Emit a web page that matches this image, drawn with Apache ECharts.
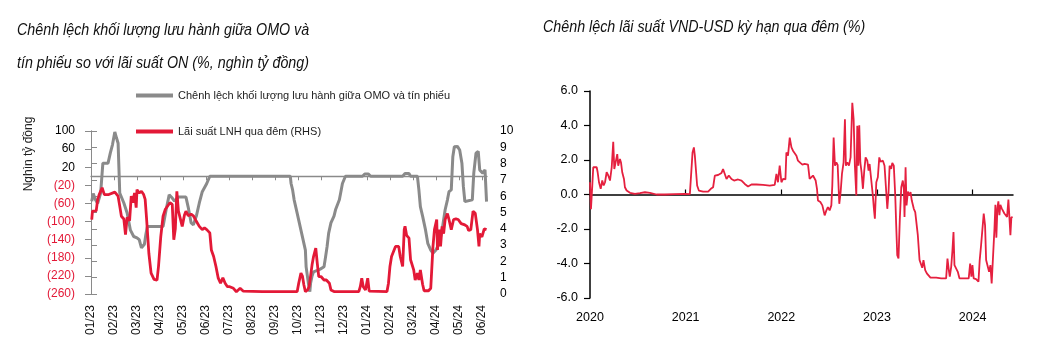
<!DOCTYPE html>
<html>
<head>
<meta charset="utf-8">
<script src="https://cdn.jsdelivr.net/npm/echarts@6/dist/echarts.min.js"></script>
<style>
html,body{margin:0;padding:0;background:#fff;}
#c{width:1046px;height:342px;}
</style>
</head>
<body>
<div id="c"></div>
<script>
// ---------------- DATA ----------------
const leftTitleLines = ['Chênh lệch khối lượng lưu hành giữa OMO và', 'tín phiếu so với lãi suất ON (%, nghìn tỷ đồng)'];
const rightTitle = 'Chênh lệch lãi suất VND-USD kỳ hạn qua đêm (%)';
const leftAxisName = 'Nghìn tỷ đồng';
const omoName = 'Chênh lệch khối lượng lưu hành giữa OMO và tín phiếu';
const lnhName = 'Lãi suất LNH qua đêm (RHS)';
const monthLabels = ['01/23','02/23','03/23','04/23','05/23','06/23','07/23','08/23','09/23','10/23','11/23','12/23','01/24','02/24','03/24','04/24','05/24','06/24'];
const yearLabels = ['2020','2021','2022','2023','2024'];

// OMO - T-bill outstanding gap (thousand bn VND, left axis)
const omoPoints = [
['2023-01-02',-55],['2023-01-04',-38],['2023-01-07',-52],['2023-01-10',-60],['2023-01-14',-37],['2023-01-17',29],
['2023-01-24',29],['2023-01-27',51],['2023-01-30',70],['2023-02-02',98],['2023-02-04',85],['2023-02-06',73],
['2023-02-08',-37],['2023-02-13',-59],['2023-02-17',-81],['2023-02-21',-119],['2023-02-25',-133],['2023-03-01',-136],
['2023-03-04',-140],['2023-03-07',-158],['2023-03-11',-150],['2023-03-13',-128],['2023-03-15',-111],['2023-04-05',-111],
['2023-04-09',-74],['2023-04-13',-41],['2023-04-17',-48],['2023-04-20',-55],['2023-04-25',-46],['2023-05-05',-46],
['2023-05-08',-68],['2023-05-12',-103],['2023-05-15',-107],['2023-05-19',-88],['2023-05-23',-59],['2023-05-27',-34],
['2023-06-02',-16],['2023-06-06',0],['2023-09-21',0],['2023-09-22',-16],['2023-09-24',-30],['2023-09-26',-52],
['2023-09-30',-82],['2023-10-02',-97],['2023-10-05',-119],['2023-10-08',-141],['2023-10-11',-163],['2023-10-12',-200],
['2023-10-15',-236],['2023-10-17',-255],['2023-10-18',-236],['2023-10-20',-220],['2023-10-22',-211],['2023-10-27',-208],
['2023-10-31',-205],['2023-11-05',-200],['2023-11-07',-178],['2023-11-09',-155],['2023-11-11',-126],['2023-11-14',-103],
['2023-11-18',-88],['2023-11-20',-74],['2023-11-25',-52],['2023-11-27',-34],['2023-11-29',-16],['2023-12-03',0],
['2023-12-26',0],['2023-12-29',5],['2024-01-03',5],['2024-01-06',0],['2024-02-17',0],['2024-02-20',6],
['2024-02-25',6],['2024-02-27',0],['2024-03-07',0],['2024-03-09',-30],['2024-03-11',-67],['2024-03-14',-88],
['2024-03-18',-119],['2024-03-21',-148],['2024-03-25',-163],['2024-03-28',-170],['2024-04-01',-163],['2024-04-05',-148],
['2024-04-09',-119],['2024-04-13',-74],['2024-04-16',-52],['2024-04-18',-34],['2024-04-21',-30],['2024-04-23',43],
['2024-04-25',65],['2024-04-29',66],['2024-05-02',58],['2024-05-05',29],['2024-05-07',-23],['2024-05-09',-56],
['2024-05-19',-52],['2024-05-21',7],['2024-05-24',51],['2024-05-27',55],['2024-05-29',14],['2024-06-02',7],
['2024-06-05',14],['2024-06-07',-56]
];

// Overnight interbank rate (%, right axis)
const lnhPoints = [
['2023-01-02',4.57],['2023-01-03',5.08],['2023-01-08',5.1],['2023-01-10',5.8],['2023-01-12',6.1],['2023-01-16',6.52],
['2023-01-19',6.1],['2023-01-25',6.1],['2023-02-02',6.25],['2023-02-06',6.0],['2023-02-08',5.39],['2023-02-10',4.77],
['2023-02-13',4.6],['2023-02-15',3.64],['2023-02-17',4.7],['2023-02-20',4.5],['2023-02-22',6.0],['2023-02-24',5.6],
['2023-02-26',6.2],['2023-02-28',5.3],['2023-03-01',6.4],['2023-03-04',6.2],['2023-03-07',6.3],['2023-03-10',6.1],
['2023-03-12',5.8],['2023-03-14',4.57],['2023-03-17',2.5],['2023-03-20',1.28],['2023-03-24',0.9],['2023-03-28',0.85],
['2023-03-30',1.7],['2023-04-02',3.5],['2023-04-05',4.77],['2023-04-08',5.2],['2023-04-11',5.4],['2023-04-14',5.6],
['2023-04-17',5.5],['2023-04-19',3.33],['2023-04-21',4.0],['2023-04-23',6.3],['2023-04-25',5.1],['2023-04-27',5.0],
['2023-04-30',4.15],['2023-05-03',4.85],['2023-05-05',5.08],['2023-05-08',4.8],['2023-05-12',4.9],['2023-05-15',4.8],
['2023-05-19',4.46],['2023-05-23',4.15],['2023-05-27',3.95],['2023-05-30',4.05],['2023-06-02',3.95],['2023-06-06',3.75],
['2023-06-08',2.7],['2023-06-11',2.3],['2023-06-14',1.69],['2023-06-17',0.97],['2023-06-20',0.66],['2023-06-23',1.0],
['2023-06-26',0.66],['2023-06-29',0.45],['2023-07-02',0.45],['2023-07-07',0.35],['2023-07-11',0.14],['2023-07-16',0.35],
['2023-07-20',0.18],['2023-08-15',0.15],['2023-09-30',0.15],['2023-10-02',0.66],['2023-10-05',1.28],['2023-10-07',1.1],
['2023-10-09',0.55],['2023-10-11',0.14],['2023-10-14',0.25],['2023-10-16',0.45],['2023-10-18',1.1],['2023-10-20',1.79],
['2023-10-22',2.3],['2023-10-25',2.82],['2023-10-27',1.9],['2023-10-29',1.07],['2023-11-01',1.07],['2023-11-05',0.86],
['2023-11-08',0.86],['2023-11-12',0.66],['2023-11-14',0.25],['2023-11-18',0.15],['2023-12-21',0.15],['2023-12-23',0.45],
['2023-12-25',0.97],['2023-12-27',0.45],['2023-12-30',0.25],['2024-01-02',0.97],['2024-01-04',0.18],['2024-01-28',0.15],
['2024-01-30',0.66],['2024-02-01',1.69],['2024-02-03',2.3],['2024-02-08',2.92],['2024-02-12',2.92],['2024-02-14',2.3],
['2024-02-17',1.69],['2024-02-19',3.95],['2024-02-20',4.15],['2024-02-22',3.6],['2024-02-25',3.43],['2024-02-27',2.1],
['2024-02-29',2.1],['2024-03-02',1.48],['2024-03-04',0.86],['2024-03-07',1.28],['2024-03-09',0.86],['2024-03-11',1.48],
['2024-03-14',0.6],['2024-03-16',0.2],['2024-03-18',0.14],['2024-03-22',0.2],['2024-03-25',0.35],['2024-03-28',2.92],
['2024-03-30',3.95],['2024-04-02',4.57],['2024-04-03',2.7],['2024-04-05',3.95],['2024-04-07',2.92],['2024-04-09',4.15],
['2024-04-11',3.7],['2024-04-13',4.57],['2024-04-16',4.94],['2024-04-18',4.57],['2024-04-21',3.95],['2024-04-24',4.57],
['2024-04-27',4.61],['2024-04-30',4.57],['2024-05-04',4.32],['2024-05-08',4.26],['2024-05-12',4.15],['2024-05-14',3.9],
['2024-05-17',3.95],['2024-05-20',5.08],['2024-05-23',4.95],['2024-05-26',3.95],['2024-05-28',2.92],['2024-05-29',3.7],
['2024-06-01',3.5],['2024-06-04',4.0],['2024-06-07',3.95]
];

// VND-USD overnight rate spread (%), x = decimal year
const spreadPoints = [
[2020.000,0.71],[2020.010,-0.85],[2020.024,0.52],[2020.034,1.58],[2020.070,1.58],[2020.080,1.29],[2020.094,0.71],
[2020.112,0.33],[2020.128,0.81],[2020.143,0.52],[2020.157,0.71],[2020.174,1.29],[2020.191,1.10],[2020.209,0.81],
[2020.227,1.58],[2020.243,3.05],[2020.254,1.48],[2020.271,1.38],[2020.285,2.34],[2020.295,1.67],[2020.313,2.06],
[2020.324,1.86],[2020.337,1.29],[2020.355,0.90],[2020.365,0.42],[2020.383,0.23],[2020.418,0.10],[2020.470,0.04],
[2020.522,0.08],[2020.574,0.13],[2020.626,0.10],[2020.696,0.00],[2020.783,0.00],[2020.887,0.02],[2020.992,0.04],
[2021.044,0.02],[2021.062,0.13],[2021.072,2.44],[2021.086,2.73],[2021.096,2.25],[2021.110,2.15],[2021.120,0.52],
[2021.138,0.23],[2021.183,0.17],[2021.235,0.17],[2021.263,0.33],[2021.287,0.42],[2021.305,1.10],[2021.323,1.19],
[2021.339,1.13],[2021.375,1.25],[2021.391,1.48],[2021.409,1.19],[2021.427,0.90],[2021.451,1.10],[2021.479,0.90],
[2021.506,0.81],[2021.548,0.87],[2021.584,0.81],[2021.618,0.61],[2021.652,0.46],[2021.688,0.58],[2021.740,0.58],
[2021.809,0.56],[2021.879,0.52],[2021.931,0.56],[2021.949,1.19],[2021.965,0.71],[2021.983,1.67],[2022.001,0.71],
[2022.018,0.90],[2022.043,0.87],[2022.053,2.44],[2022.070,2.25],[2022.088,3.30],[2022.106,2.73],[2022.122,2.54],
[2022.140,2.44],[2022.158,2.25],[2022.174,1.96],[2022.199,1.83],[2022.220,1.73],[2022.244,1.77],[2022.279,1.73],
[2022.296,0.90],[2022.314,0.87],[2022.331,1.10],[2022.349,1.19],[2022.359,0.81],[2022.373,0.33],[2022.383,-0.35],
[2022.408,-0.44],[2022.429,-0.63],[2022.453,-1.21],[2022.471,-0.92],[2022.487,-0.73],[2022.505,-0.92],[2022.523,-0.63],
[2022.533,0.52],[2022.547,3.30],[2022.561,1.67],[2022.575,1.86],[2022.589,1.71],[2022.606,-0.54],[2022.620,0.13],
[2022.634,1.19],[2022.651,1.86],[2022.665,4.36],[2022.675,1.67],[2022.690,1.86],[2022.707,1.67],[2022.724,2.15],
[2022.742,5.32],[2022.756,4.36],[2022.769,1.67],[2022.784,-0.06],[2022.794,3.98],[2022.805,1.67],[2022.815,4.02],
[2022.826,1.86],[2022.839,1.29],[2022.853,0.33],[2022.867,1.38],[2022.881,2.15],[2022.899,1.96],[2022.912,1.38],
[2022.923,1.77],[2022.940,1.67],[2022.957,-0.06],[2022.968,-0.83],[2022.978,-1.40],[2022.993,0.71],[2023.009,1.00],
[2023.024,2.15],[2023.038,1.90],[2023.062,1.96],[2023.079,1.67],[2023.097,0.13],[2023.108,-0.83],[2023.121,0.13],
[2023.132,1.67],[2023.149,1.48],[2023.160,1.83],[2023.176,1.67],[2023.191,-0.06],[2023.201,-1.79],[2023.212,-3.52],
[2023.225,-3.71],[2023.239,-1.40],[2023.254,0.42],[2023.270,0.81],[2023.281,0.33],[2023.288,-1.31],[2023.299,1.58],
[2023.309,-0.63],[2023.323,0.17],[2023.333,-0.06],[2023.351,0.13],[2023.364,-0.35],[2023.385,-0.83],[2023.400,-1.02],
[2023.413,-0.98],[2023.427,-2.36],[2023.445,-3.80],[2023.462,-3.90],[2023.473,-4.25],[2023.486,-3.80],[2023.504,-4.38],
[2023.521,-4.57],[2023.531,-4.67],[2023.559,-4.82],[2023.619,-4.82],[2023.671,-4.86],[2023.723,-4.86],[2023.737,-3.71],
[2023.751,-4.38],[2023.761,-4.76],[2023.776,-4.19],[2023.789,-3.23],[2023.800,-2.17],[2023.810,-4.09],[2023.828,-4.19],
[2023.845,-4.48],[2023.862,-4.86],[2023.914,-4.86],[2023.959,-4.86],[2023.974,-4.00],[2023.987,-4.76],[2023.998,-4.09],
[2024.011,-4.86],[2024.036,-4.90],[2024.061,-5.05],[2024.074,-3.80],[2024.089,-2.90],[2024.105,-2.90],[2024.116,-1.11],
[2024.130,-1.79],[2024.141,-3.80],[2024.157,-3.80],[2024.172,-4.48],[2024.186,-4.09],[2024.199,-5.15],[2024.214,-5.05],
[2024.228,-2.00],[2024.238,-0.60],[2024.248,-2.50],[2024.259,-0.80],[2024.269,-0.40],[2024.280,-1.20],[2024.290,-0.60],
[2024.304,-0.80],[2024.314,-0.90],[2024.332,-1.10],[2024.349,-1.00],[2024.360,-1.30],[2024.374,-0.30],[2024.384,-0.25],
[2024.395,-2.36],[2024.405,-1.30],[2024.418,-1.35]
];

// ---------------- CHART ----------------
const RED = '#e31937';
const GRAY = '#8a8a8a';
const FONT = "'Liberation Sans', Arial, sans-serif";
const TITLE_FONT = "'Liberation Sans Narrow', 'Arial Narrow', 'Liberation Sans', Arial, sans-serif";
const TITLE_SCALE = 0.84;

function monthIdx(s) {
  const p = s.split('-').map(Number);
  const dim = new Date(p[0], p[1], 0).getDate();
  return (p[0] - 2023) * 12 + (p[1] - 1) + (p[2] - 1) / dim;
}
const monthMax = monthIdx(omoPoints[omoPoints.length - 1][0]) + 0.02;
const yearMax = spreadPoints[spreadPoints.length - 1][0] + 0.004;
const monthTicks = monthLabels.map((_, i) => i);
const yearTicks = yearLabels.map(Number);

function titleText(text, x, y) {
  return {
    type: 'text', x: x, y: y, scaleX: TITLE_SCALE, scaleY: 1,
    style: {text: text, fontFamily: TITLE_FONT, fontStyle: 'italic', fontSize: 17,
      fill: '#111', align: 'left', verticalAlign: 'middle'}
  };
}

const chart = echarts.init(document.getElementById('c'), null, {renderer: 'canvas'});
chart.setOption({
  animation: false,
  backgroundColor: '#fff',
  textStyle: {fontFamily: FONT},
  legend: {
    orient: 'vertical', left: 136, top: 90, itemWidth: 37, itemHeight: 4, itemGap: 25, padding: 0,
    icon: 'rect',
    textStyle: {fontSize: 11, color: '#222', fontFamily: FONT},
    data: [omoName, lnhName]
  },
  graphic: [
    titleText(leftTitleLines[0], 17, 30),
    titleText(leftTitleLines[1], 17, 63),
    titleText(rightTitle, 543, 27),
    {type: 'text', x: 29, y: 154, rotation: Math.PI / 2,
     style: {text: leftAxisName, fontSize: 12, fontFamily: FONT, fill: '#222', align: 'center', verticalAlign: 'middle'}}
  ],
  grid: [
    {left: 91, right: 559, top: 131, bottom: 48},
    {left: 590, right: 33, top: 91, bottom: 44}
  ],
  xAxis: [
    {gridIndex: 0, type: 'value', min: 0, max: monthMax, interval: 1, position: 'bottom',
     axisLine: {show: false, onZero: false}, axisTick: {show: false}, splitLine: {show: false},
     axisLabel: {rotate: 90, margin: 11, fontSize: 12, color: '#111',
       customValues: monthTicks,
       formatter: v => (Math.abs(v - Math.round(v)) < 1e-6 && monthLabels[Math.round(v)]) || ''}},
    {gridIndex: 0, type: 'value', min: 0, max: monthMax, interval: 1, position: 'top',
     axisLine: {show: true, onZero: true, onZeroAxisIndex: 0, lineStyle: {color: GRAY, width: 1.3}},
     axisTick: {show: true, inside: true, length: 4, customValues: monthTicks, lineStyle: {color: GRAY, width: 1}},
     axisLabel: {show: false}, splitLine: {show: false}},
    {gridIndex: 1, type: 'value', min: 2020, max: yearMax, interval: 1, position: 'bottom',
     axisLine: {show: false, onZero: false}, axisTick: {show: false}, splitLine: {show: false},
     axisLabel: {margin: 13, fontSize: 12.5, color: '#000', customValues: yearTicks,
       formatter: v => (Math.abs(v - Math.round(v)) < 1e-6 ? String(Math.round(v)) : '')}},
    {gridIndex: 1, type: 'value', min: 2020, max: yearMax, interval: 1, position: 'top',
     axisLine: {show: true, onZero: true, onZeroAxisIndex: 2, lineStyle: {color: '#000', width: 1.5}},
     axisTick: {show: true, inside: false, length: 5, customValues: yearTicks, lineStyle: {color: '#000', width: 1.2}},
     axisLabel: {show: false}, splitLine: {show: false}}
  ],
  yAxis: [
    {gridIndex: 0, type: 'value', position: 'left', min: -260, max: 100, interval: 40,
     axisLine: {show: true, lineStyle: {color: GRAY, width: 1}},
     axisTick: {show: true, length: 6, lineStyle: {color: GRAY}},
     splitLine: {show: false},
     axisLabel: {margin: 16, fontSize: 12, formatter: v => (v < 0 ? '(' + (-v) + ')' : String(v)),
       color: v => (Number(v) < 0 ? RED : '#000')}},
    {gridIndex: 0, type: 'value', position: 'right', min: 0, max: 10, interval: 1,
     axisLine: {show: true, lineStyle: {color: GRAY, width: 1}},
     axisTick: {show: true, length: 6, lineStyle: {color: GRAY}},
     splitLine: {show: false},
     axisLabel: {margin: 13, fontSize: 12, color: '#000'}},
    {gridIndex: 1, type: 'value', position: 'left', min: -6, max: 6, interval: 2,
     axisLine: {show: true, onZero: false, lineStyle: {color: '#000', width: 1.5}},
     axisTick: {show: true, length: 6, lineStyle: {color: '#000', width: 1.2}},
     splitLine: {show: false},
     axisLabel: {margin: 12, fontSize: 12.5, color: '#000', formatter: v => Number(v).toFixed(1)}}
  ],
  series: [
    {name: omoName, type: 'line', xAxisIndex: 0, yAxisIndex: 0, showSymbol: false, symbol: 'none',
     lineStyle: {color: GRAY, width: 3}, itemStyle: {color: GRAY},
     data: omoPoints.map(p => [monthIdx(p[0]), p[1]])},
    {name: lnhName, type: 'line', xAxisIndex: 0, yAxisIndex: 1, showSymbol: false, symbol: 'none',
     lineStyle: {color: RED, width: 2.8}, itemStyle: {color: RED},
     data: lnhPoints.map(p => [monthIdx(p[0]), p[1]])},
    {name: 'spread', type: 'line', xAxisIndex: 2, yAxisIndex: 2, showSymbol: false, symbol: 'none',
     lineStyle: {color: '#e5203f', width: 1.8}, itemStyle: {color: '#e5203f'},
     data: spreadPoints}
  ]
});
</script>
</body>
</html>
